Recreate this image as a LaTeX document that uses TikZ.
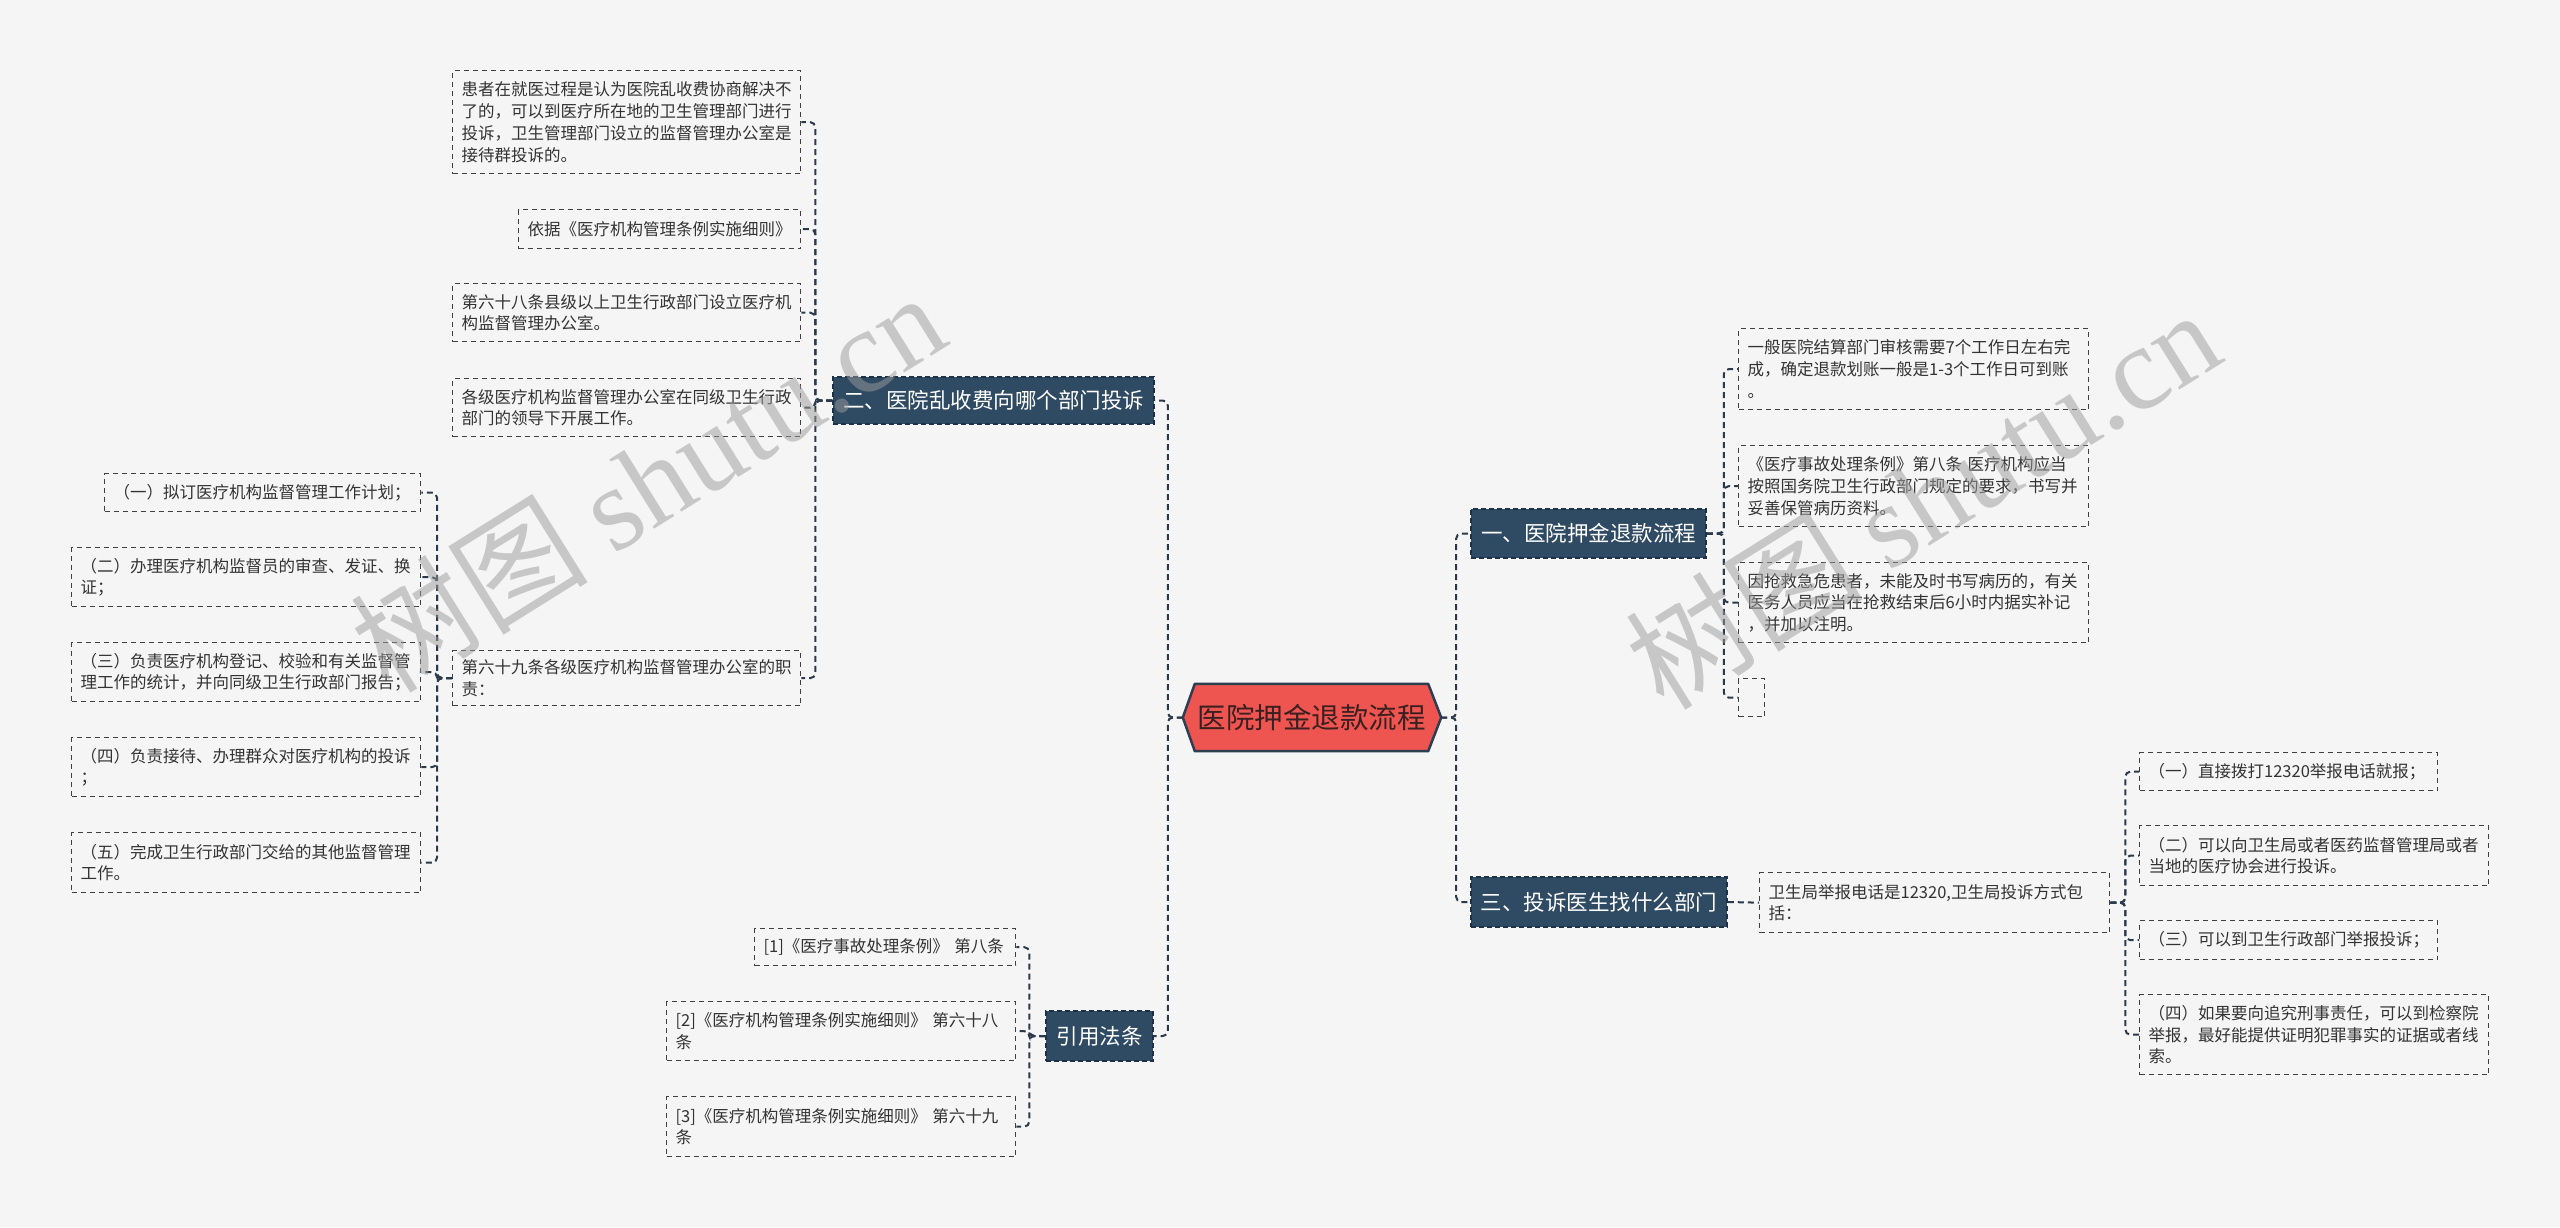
\documentclass[tikz,border=0pt]{standalone}
\usepackage{fontspec}
\setmainfont{Noto Sans CJK SC}
\newfontfamily\wmserif{Liberation Serif}
\definecolor{bgc}{HTML}{F5F5F5}
\definecolor{linec}{HTML}{2B3A4A}
\definecolor{leafc}{HTML}{404040}
\definecolor{txtc}{HTML}{333333}
\definecolor{brfill}{HTML}{2F4A63}
\definecolor{brdraw}{HTML}{1E3045}
\definecolor{rootfill}{HTML}{EE5450}
\definecolor{rootdraw}{HTML}{2C3E50}
\definecolor{roottext}{HTML}{3A2020}
\definecolor{wmc}{HTML}{9B9B9B}
\pgfdeclarelayer{bg}
\pgfsetlayers{bg,main}
\tikzset{
  leaf/.style={draw=leafc, line width=1.3pt, dash pattern=on 5pt off 4pt, text=txtc,
    font=\fontsize{16.5pt}{21.7pt}\selectfont, align=left, inner xsep=9pt, inner ysep=0pt,
    anchor=north west},
  bnode/.style={fill=brfill, draw=brdraw, line width=1.5pt, dash pattern=on 5pt off 3pt,
    text=white, font=\fontsize{21.5pt}{26pt}\selectfont, inner sep=0pt},
  rootnode/.style={text=roottext, font=\fontsize{28.5pt}{34pt}\selectfont, inner sep=0pt,
    minimum width=233pt, minimum height=67pt},
  conn/.style={draw=linec, line width=2pt, dash pattern=on 6pt off 4pt, rounded corners=5pt},
  wm/.style={text=wmc, opacity=0.5, rotate=32, font=\fontsize{119pt}{119pt}\selectfont}
}
\begin{document}
\begin{tikzpicture}[x=1pt,y=-1pt]
\useasboundingbox (0,0) rectangle (2560,1227);

% root
\node[rootnode] (root) at (1311.5,717.5) {医院押金退款流程};
\coordinate (rootL) at ([xshift=-12pt]root.west);
\coordinate (rootR) at ([xshift=13pt]root.east);
\begin{pgfonlayer}{bg}
\fill[bgc] (0,0) rectangle (2560,1227);
\filldraw[fill=rootfill, draw=rootdraw, line width=2.5pt, line join=round]
  (root.north west) -- (root.north east) -- (rootR) -- (root.south east)
  -- (root.south west) -- (rootL) -- cycle;
\end{pgfonlayer}

% branches
\node[bnode, minimum width=235pt, minimum height=49pt] (br1) at (1588.5,533.5) {一、医院押金退款流程};
\node[bnode, minimum width=321pt, minimum height=47pt] (br2) at (993.5,400.5) {二、医院乱收费向哪个部门投诉};
\node[bnode, minimum width=256pt, minimum height=50pt] (br3) at (1599,902) {三、投诉医生找什么部门};
\node[bnode, minimum width=107pt, minimum height=50pt] (br4) at (1099.5,1036) {引用法条};

% children of br2
\node[leaf, text width=330pt, minimum height=103pt] (A) at (452,70) {患者在就医过程是认为医院乱收费协商解决不\\了的，可以到医疗所在地的卫生管理部门进行\\投诉，卫生管理部门设立的监督管理办公室是\\接待群投诉的。};
\node[leaf, text width=264pt, minimum height=39pt] (B) at (518,209) {依据《医疗机构管理条例实施细则》};
\node[leaf, text width=330pt, minimum height=58pt] (C) at (452,283) {第六十八条县级以上卫生行政部门设立医疗机\\构监督管理办公室。};
\node[leaf, text width=330pt, minimum height=58pt] (D) at (452,378) {各级医疗机构监督管理办公室在同级卫生行政\\部门的领导下开展工作。};
\node[leaf, text width=330pt, minimum height=55pt] (E) at (452,650) {第六十九条各级医疗机构监督管理办公室的职\\责：};

% children of E
\node[leaf, text width=298pt, minimum height=38pt] (F1) at (104,473) {（一）拟订医疗机构监督管理工作计划；};
\node[leaf, text width=331pt, minimum height=59pt] (F2) at (71,547) {（二）办理医疗机构监督员的审查、发证、换\\证；};
\node[leaf, text width=331pt, minimum height=59pt] (F3) at (71,642) {（三）负责医疗机构登记、校验和有关监督管\\理工作的统计，并向同级卫生行政部门报告；};
\node[leaf, text width=331pt, minimum height=59pt] (F4) at (71,737) {（四）负责接待、办理群众对医疗机构的投诉\\；};
\node[leaf, text width=331pt, minimum height=60pt] (F5) at (71,832) {（五）完成卫生行政部门交给的其他监督管理\\工作。};

% children of br4
\node[leaf, text width=243pt, minimum height=37pt] (G1) at (754,928) {[1]《医疗事故处理条例》~第八条};
\node[leaf, text width=331pt, minimum height=59pt] (G2) at (666,1001) {[2]《医疗机构管理条例实施细则》~第六十八\\条};
\node[leaf, text width=331pt, minimum height=60pt] (G3) at (666,1096) {[3]《医疗机构管理条例实施细则》~第六十九\\条};

% children of br1
\node[leaf, text width=332pt, minimum height=81pt] (H1) at (1738,328) {一般医院结算部门审核需要7个工作日左右完\\成，确定退款划账一般是1-3个工作日可到账\\。};
\node[leaf, text width=332pt, minimum height=81pt] (H2) at (1738,445) {《医疗事故处理条例》第八条~医疗机构应当\\按照国务院卫生行政部门规定的要求，书写并\\妥善保管病历资料。};
\node[leaf, text width=332pt, minimum height=80pt] (H3) at (1738,562) {因抢救急危患者，未能及时书写病历的，有关\\医务人员应当在抢救结束后6小时内据实补记\\，并加以注明。};
\node[leaf, text width=8pt, minimum height=38pt] (H4) at (1738,678) {};

% children of br3
\node[leaf, text width=332pt, minimum height=60pt] (I) at (1759,872) {卫生局举报电话是12320,卫生局投诉方式包\\括：};
\node[leaf, text width=280pt, minimum height=38pt] (J1) at (2139,752) {（一）直接拨打12320举报电话就报；};
\node[leaf, text width=331pt, minimum height=60pt] (J2) at (2139,825) {（二）可以向卫生局或者医药监督管理局或者\\当地的医疗协会进行投诉。};
\node[leaf, text width=280pt, minimum height=39pt] (J3) at (2139,920) {（三）可以到卫生行政部门举报投诉；};
\node[leaf, text width=331pt, minimum height=80pt] (J4) at (2139,994) {（四）如果要向追究刑事责任，可以到检察院\\举报，最好能提供证明犯罪事实的证据或者线\\索。};

% connectors
\draw[conn] (rootL) -- ++(-15,0) |- (br2.east);
\draw[conn] (rootL) -- ++(-15,0) |- (br4.east);
\draw[conn] (rootR) -- ++(15,0) |- (br1.west);
\draw[conn] (rootR) -- ++(15,0) |- (br3.west);

\foreach \c in {A,B,C,D,E}{\draw[conn] (br2.west) -- ++(-17,0) |- (\c.east);}
\foreach \c in {F1,F2,F3,F4,F5}{\draw[conn] (E.west) -- ++(-15,0) |- (\c.east);}
\foreach \c in {G1,G2,G3}{\draw[conn] (br4.west) -- ++(-16,0) |- (\c.east);}
\foreach \c in {H1,H2,H3,H4}{\draw[conn] (br1.east) -- ++(17,0) |- (\c.west);}
\draw[conn] (br3.east) -- (I.west);
\foreach \c in {J1,J2,J3,J4}{\draw[conn] (I.east) -- ++(15,0) |- (\c.west);}

% watermark
\node[wm] (wm1) at (647,481) {树图 {\wmserif shutu.cn}};
\node[wm] (wm2) at (1922,498) {树图 {\wmserif shutu.cn}};
\end{tikzpicture}
\end{document}
